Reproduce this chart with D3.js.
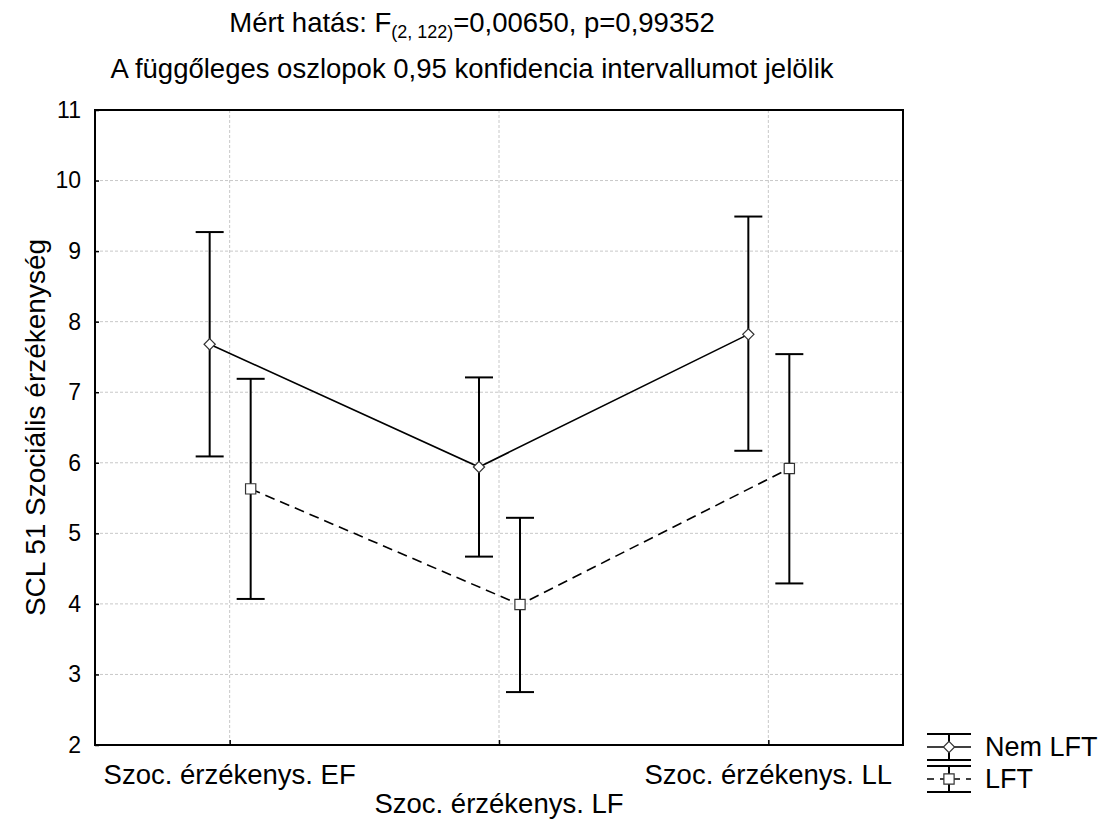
<!DOCTYPE html>
<html>
<head>
<meta charset="utf-8">
<script src="https://cdn.jsdelivr.net/npm/d3@7"></script>
<style>
  html, body { margin: 0; padding: 0; background: #fff; }
  svg { display: block; font-family: "Liberation Sans", Arial, sans-serif; }
</style>
</head>
<body>
<svg id="chart" width="1103" height="819"></svg>
<script>
// ---- data ----
const categories = ["Szoc. érzékenys. EF", "Szoc. érzékenys. LF", "Szoc. érzékenys. LL"];
const seriesNames = ["Nem LFT", "LFT"];
const nemMean  = [7.68, 5.94, 7.82];
const nemLower = [6.09, 4.67, 6.17];
const nemUpper = [9.27, 7.21, 9.49];
const lftMean  = [5.63, 3.99, 5.92];
const lftLower = [4.07, 2.75, 4.29];
const lftUpper = [7.19, 5.22, 7.54];
const yTicks = [2, 3, 4, 5, 6, 7, 8, 9, 10, 11];
const titleMain = "Mért hatás: F";
const titleSub = "(2, 122)";
const titleRest = "=0,00650, p=0,99352";
const title2 = "A függőleges oszlopok 0,95 konfidencia intervallumot jelölik";
const yLabel = "SCL 51 Szociális érzékenység";

const series = [
  { name: seriesNames[0], mean: nemMean, lower: nemLower, upper: nemUpper, dash: null, marker: "diamond" },
  { name: seriesNames[1], mean: lftMean, lower: lftLower, upper: lftUpper, dash: "10,6", marker: "square" }
];

// ---- layout ----
const L = 95, R = 903, T = 110, B = 745;
const svg = d3.select("#chart");

const x = d3.scalePoint().domain(categories).range([L, R]).padding(0.5);
const xOff = d3.scalePoint().domain(seriesNames).range([-20, 21]);
const y = d3.scaleLinear().domain([2, 11]).range([B, T]);

// gridlines
const grid = svg.append("g");
grid.selectAll("line.h").data(yTicks.filter(d => d > 2 && d < 11)).join("line")
  .attr("x1", L).attr("x2", R).attr("y1", d => y(d)).attr("y2", d => y(d))
  .attr("stroke", "#c8c8c8").attr("stroke-width", 1).attr("stroke-dasharray", "3,2");
grid.selectAll("line.v").data(categories).join("line")
  .attr("x1", d => x(d)).attr("x2", d => x(d)).attr("y1", T).attr("y2", B)
  .attr("stroke", "#c8c8c8").attr("stroke-width", 1).attr("stroke-dasharray", "3,2");

// axes
const yAxis = d3.axisLeft(y).tickValues(yTicks).tickSize(-4).tickPadding(14).tickFormat(d3.format("d"));
const gy = svg.append("g").attr("transform", `translate(${L},0)`).call(yAxis);
gy.select(".domain").remove();
gy.selectAll(".tick line").attr("stroke", "#000").attr("stroke-width", 1.5);
gy.selectAll(".tick text").attr("font-size", 23).attr("fill", "#000")
  .attr("font-family", "Liberation Sans, Arial, sans-serif");

const xAxis = d3.axisBottom(x).tickSize(-5).tickFormat(() => "");
const gx = svg.append("g").attr("transform", `translate(0,${B})`).call(xAxis);
gx.select(".domain").remove();
gx.selectAll(".tick line").attr("stroke", "#000").attr("stroke-width", 1.5);

// frame
svg.append("rect").attr("x", L).attr("y", T).attr("width", R - L).attr("height", B - T)
  .attr("fill", "none").attr("stroke", "#000").attr("stroke-width", 2);

// x category labels (staggered)
svg.append("g").selectAll("text").data(categories).join("text")
  .attr("x", d => x(d))
  .attr("y", (d, i) => i === 1 ? 813 : 784)
  .attr("text-anchor", "middle").attr("font-size", 27.5).attr("fill", "#000")
  .text(d => d);

// error bars
const capW = 14;
series.forEach(s => {
  const g = svg.append("g");
  const px = c => x(c) + xOff(s.name);
  categories.forEach((c, i) => {
    g.append("line").attr("x1", px(c)).attr("x2", px(c))
      .attr("y1", y(s.lower[i])).attr("y2", y(s.upper[i]))
      .attr("stroke", "#000").attr("stroke-width", 2);
    [s.lower[i], s.upper[i]].forEach(v => {
      g.append("line").attr("x1", px(c) - capW).attr("x2", px(c) + capW)
        .attr("y1", y(v)).attr("y2", y(v))
        .attr("stroke", "#000").attr("stroke-width", 2);
    });
  });
});

// mean lines
series.forEach(s => {
  const line = d3.line().x((d, i) => x(categories[i]) + xOff(s.name)).y(d => y(d));
  svg.append("path").datum(s.mean).attr("d", line)
    .attr("fill", "none").attr("stroke", "#000").attr("stroke-width", 1.6)
    .attr("stroke-dasharray", s.dash);
});

// markers
const diamond = d3.symbol().type(d3.symbolDiamond2).size(80);
const square = d3.symbol().type(d3.symbolSquare).size(105);
series.forEach(s => {
  svg.append("g").selectAll("path").data(s.mean).join("path")
    .attr("transform", (d, i) => `translate(${x(categories[i]) + xOff(s.name)},${y(d)})`)
    .attr("d", s.marker === "diamond" ? diamond() : square())
    .attr("fill", "#fff").attr("stroke", "#333").attr("stroke-width", 1.2);
});

// titles
const t1 = svg.append("text").attr("x", 472).attr("y", 32).attr("text-anchor", "middle")
  .attr("font-size", 27.5).attr("fill", "#000");
t1.append("tspan").text(titleMain);
t1.append("tspan").attr("font-size", 18).attr("dy", 6).text(titleSub);
t1.append("tspan").attr("dy", -6).text(titleRest);

svg.append("text").attr("x", 472).attr("y", 78).attr("text-anchor", "middle")
  .attr("font-size", 27.5).attr("fill", "#000").text(title2);

// y label
svg.append("text").attr("transform", `translate(45,${(T + B) / 2}) rotate(-90)`)
  .attr("text-anchor", "middle").attr("font-size", 28).attr("fill", "#000").text(yLabel);

// legend
const legX = 927, legW = 44, legTxt = 985;
const legY = [747, 779];
series.forEach((s, i) => {
  const g = svg.append("g");
  const cy = legY[i], cx = legX + legW / 2;
  g.append("line").attr("x1", legX).attr("x2", legX + legW).attr("y1", cy - 13).attr("y2", cy - 13)
    .attr("stroke", "#000").attr("stroke-width", 2);
  g.append("line").attr("x1", legX).attr("x2", legX + legW).attr("y1", cy + 13).attr("y2", cy + 13)
    .attr("stroke", "#000").attr("stroke-width", 2);
  g.append("line").attr("x1", cx).attr("x2", cx).attr("y1", cy - 13).attr("y2", cy + 13)
    .attr("stroke", "#000").attr("stroke-width", 2);
  g.append("line").attr("x1", legX).attr("x2", legX + legW).attr("y1", cy).attr("y2", cy)
    .attr("stroke", "#000").attr("stroke-width", 1.6).attr("stroke-dasharray", s.dash ? "7,6" : null);
  g.append("path").attr("transform", `translate(${cx},${cy})`)
    .attr("d", s.marker === "diamond" ? diamond() : square())
    .attr("fill", "#fff").attr("stroke", "#333").attr("stroke-width", 1.2);
  g.append("text").attr("x", legTxt).attr("y", cy + 9).attr("font-size", 27).attr("fill", "#000")
    .text(s.name);
});
</script>
</body>
</html>
